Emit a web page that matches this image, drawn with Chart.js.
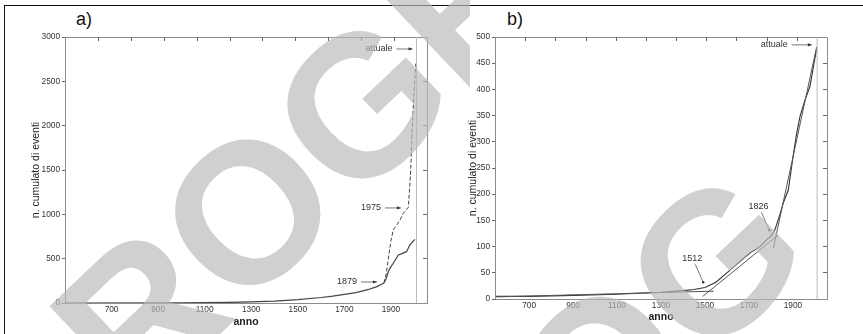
<!DOCTYPE html>
<html>
<head>
<meta charset="utf-8">
<script src="https://cdn.jsdelivr.net/npm/chart.js@4"></script>
<style>
  body { margin: 0; background: #fff; }
  #wrap { position: relative; width: 863px; height: 334px; overflow: hidden; font-family: Arial, "Liberation Sans", sans-serif; }
  #frame { position: absolute; left: 4px; top: 5px; width: 900px; height: 400px; border-top: 1.5px solid #111; border-left: 1.5px solid #111; }
  .lab { position: absolute; top: 9px; font-size: 18px; color: #111; }
  canvas { position: absolute; top: 0; }
  #wm { pointer-events: none; }
</style>
</head>
<body>
<div id="wrap">
  <div id="frame"></div>
  <div class="lab" style="left:76px">a)</div>
  <div class="lab" style="left:507px">b)</div>
  <canvas id="ca" width="440" height="334" style="left:0"></canvas>
  <canvas id="cb" width="423" height="334" style="left:440px"></canvas>
  <canvas id="wm" width="863" height="334" style="left:0"></canvas>
</div>
<script>
// panel a) - cumulated events
const yearsA = [500, 1000, 1200, 1300, 1400, 1500, 1600, 1650, 1700, 1750, 1800, 1840, 1870];
const valuesA = [0, 2, 6, 12, 22, 38, 62, 78, 98, 118, 150, 185, 225];
const yearsDashA = [1870, 1880, 1888, 1900, 1910, 1925, 1939, 1953, 1965, 1975, 1985, 1992, 2000, 2007];
const valuesDashA = [225, 330, 485, 700, 823, 880, 936, 1012, 1050, 1080, 1500, 2000, 2400, 2700];
const yearsSolidA = [1870, 1880, 1890, 1900, 1910, 1932, 1950, 1967, 1981, 2003];
const valuesSolidA = [225, 280, 360, 410, 448, 541, 560, 579, 654, 718];
const xTicksA = [700, 900, 1100, 1300, 1500, 1700, 1900];
const yTicksA = [0, 500, 1000, 1500, 2000, 2500, 3000];
const notesA = [
  { text: "attuale", x: 1993, y: 2865 },
  { text: "1975", x: 1943, y: 1072 },
  { text: "1879", x: 1840, y: 237 }
];

// panel b) - data and fitted segments
const yearsB = [550, 700, 900, 1100, 1200, 1300, 1400, 1450, 1500, 1550, 1614, 1660, 1705, 1750, 1780, 1800, 1818, 1840, 1856, 1879, 1900, 1917, 1932, 1955, 1977, 2008];
const valuesB = [5, 5, 7, 9, 11, 13, 16, 18, 22, 32, 55, 72, 88, 100, 113, 120, 132, 160, 183, 208, 270, 316, 348, 380, 405, 478];
const fit1X = [550, 1540], fit1Y = [4, 15];
const fit2X = [1490, 1833], fit2Y = [5, 122];
const fit3X = [1811, 2008], fit3Y = [97, 481];
const xTicksB = [700, 900, 1100, 1300, 1500, 1700, 1900];
const yTicksB = [0, 50, 100, 150, 200, 250, 300, 350, 400, 450, 500];
const notesB = [
  { text: "attuale", x: 1986, y: 485 },
  { text: "1826", x: 1793, y: 131 },
  { text: "1512", x: 1492, y: 32 }
];
const nowYear = 2010;
// minor marks along the top frame (0..11 units)
const topTicks = [1, 2, 3, 4, 5, 6, 7, 8, 9, 10];

function pts(xs, ys) {
  return xs.map((x, i) => ({ x: x, y: ys[i] }));
}

const tickFont = { family: "Arial, 'Liberation Sans'", size: 8.3 };
const axisGray = "#8c8c8c";

function makeOptions(cfg) {
  return {
    responsive: false,
    animation: false,
    layout: { padding: { top: 36, right: cfg.padRight, left: 0, bottom: cfg.padBottom } },
    plugins: { legend: { display: false }, tooltip: { enabled: false } },
    scales: {
      x: {
        type: "linear", position: "bottom", min: cfg.xmin, max: cfg.xmax,
        afterBuildTicks: s => { s.ticks = cfg.xTicks.map(v => ({ value: v })); },
        afterFit: s => { s.height = cfg.xHeight; },
        border: { color: axisGray },
        grid: { drawOnChartArea: false, drawTicks: false },
        ticks: { font: tickFont, color: "#333", padding: 2, callback: v => String(v) },
        title: { display: true, text: "anno", font: { family: "Arial, 'Liberation Sans'", size: 10.5, weight: "bold" }, color: "#222", padding: { top: 1, bottom: 0 } }
      },
      xt: {
        type: "linear", position: "top", min: 0, max: 11,
        afterBuildTicks: s => { s.ticks = topTicks.map(v => ({ value: v })); },
        ticks: { display: false },
        afterFit: s => { s.height = 1; },
        border: { color: axisGray },
        grid: { drawOnChartArea: false, drawTicks: false }
      },
      y: {
        min: 0, max: cfg.ymax,
        afterBuildTicks: s => { s.ticks = cfg.yTicks.map(v => ({ value: v })); },
        afterFit: s => { s.width = cfg.yWidth; },
        border: { color: axisGray },
        grid: { drawOnChartArea: false, drawTicks: true, tickLength: 3, color: "#666" },
        ticks: { font: tickFont, color: "#333", padding: 2, callback: v => String(v) },
        title: { display: true, text: "n. cumulato di eventi", font: { family: "Arial, 'Liberation Sans'", size: 10.5 }, color: "#222", padding: { top: cfg.titlePad, bottom: 0 } }
      },
      yr: {
        position: "right", min: 0, max: cfg.ymax,
        afterBuildTicks: s => { s.ticks = cfg.yTicks.map(v => ({ value: v })); },
        afterFit: s => { s.width = 0; },
        border: { color: axisGray },
        grid: { drawOnChartArea: false, drawTicks: true, tickLength: -4, color: "#666" },
        ticks: { display: false }
      }
    }
  };
}

// inward tick marks on the top frame
const topTickPlugin = {
  id: "topTicks",
  afterDraw(chart) {
    const ctx = chart.ctx, s = chart.scales.xt, top = chart.chartArea.top;
    ctx.save();
    ctx.strokeStyle = "#666"; ctx.lineWidth = 1;
    s.ticks.forEach(t => {
      const px = Math.round(s.getPixelForValue(t.value)) + 0.5;
      ctx.beginPath(); ctx.moveTo(px, top); ctx.lineTo(px, top + 4); ctx.stroke();
    });
    ctx.restore();
  }
};

// arrows + labels, anchored in data units
function notesPlugin(notes, kind) {
  return {
    id: "notes",
    afterDatasetsDraw(chart) {
      const ctx = chart.ctx, xs = chart.scales.x, ys = chart.scales.y;
      ctx.save();
      ctx.font = "9px Arial, 'Liberation Sans'";
      notes.forEach((n, i) => {
        const px = xs.getPixelForValue(n.x), py = ys.getPixelForValue(n.y);
        ctx.strokeStyle = "#555"; ctx.fillStyle = "#333"; ctx.lineWidth = 0.8;
        if (kind === "a" || i === 0) {
          const len = kind === "a" ? 16 : 20;
          ctx.beginPath(); ctx.moveTo(px - len, py); ctx.lineTo(px, py); ctx.stroke();
          ctx.beginPath(); ctx.moveTo(px, py); ctx.lineTo(px - 4, py - 1.6); ctx.lineTo(px - 4, py + 1.6); ctx.closePath(); ctx.fill();
          ctx.textAlign = "right"; ctx.textBaseline = "middle";
          ctx.fillText(n.text, px - len - 4, py);
        } else {
          ctx.beginPath(); ctx.moveTo(px - 8, py - 18); ctx.lineTo(px, py); ctx.stroke();
          ctx.beginPath(); ctx.arc(px, py, 1.2, 0, Math.PI * 2); ctx.fill();
          ctx.textAlign = "center"; ctx.textBaseline = "bottom";
          ctx.fillText(n.text, px - 11, py - 19);
        }
      });
      ctx.restore();
    }
  };
}

const lineStyle = { showLine: true, pointRadius: 0, fill: false, tension: 0 };

new Chart(document.getElementById("ca"), {
  type: "scatter",
  data: {
    datasets: [
      { ...lineStyle, data: [{ x: nowYear, y: 0 }, { x: nowYear, y: 3000 }], borderColor: "#bbb", borderWidth: 1 },
      { ...lineStyle, data: pts(yearsA, valuesA), borderColor: "#444", borderWidth: 1.2 },
      { ...lineStyle, data: pts(yearsDashA, valuesDashA), borderColor: "#444", borderWidth: 1, borderDash: [4, 2] },
      { ...lineStyle, data: pts(yearsSolidA, valuesSolidA), borderColor: "#444", borderWidth: 1.2 }
    ]
  },
  options: makeOptions({ xmin: 500, xmax: 2055, ymax: 3000, xTicks: xTicksA, yTicks: yTicksA, yWidth: 65, xHeight: 25, padBottom: 6, padRight: 13, titlePad: 30 }),
  plugins: [topTickPlugin, notesPlugin(notesA, "a")]
});

new Chart(document.getElementById("cb"), {
  type: "scatter",
  data: {
    datasets: [
      { ...lineStyle, data: [{ x: nowYear, y: 0 }, { x: nowYear, y: 500 }], borderColor: "#bbb", borderWidth: 1 },
      { ...lineStyle, data: pts(fit1X, fit1Y), borderColor: "#555", borderWidth: 1 },
      { ...lineStyle, data: pts(fit2X, fit2Y), borderColor: "#555", borderWidth: 1 },
      { ...lineStyle, data: pts(fit3X, fit3Y), borderColor: "#555", borderWidth: 1 },
      { ...lineStyle, data: pts(yearsB, valuesB), borderColor: "#333", borderWidth: 1.1 }
    ]
  },
  options: makeOptions({ xmin: 545, xmax: 2055, ymax: 500, xTicks: xTicksB, yTicks: yTicksB, yWidth: 55, xHeight: 24, padBottom: 11, padRight: 36, titlePad: 27 }),
  plugins: [topTickPlugin, notesPlugin(notesB, "b")]
});

// light diagonal watermark lettering lying over the picture
(function () {
  const ctx = document.getElementById("wm").getContext("2d");
  ctx.font = "bold 200px Arial, 'Liberation Sans'";
  ctx.fillStyle = "rgba(186,186,186,0.68)";
  function word(text, anchorIdx, cx, cy, clipRight) {
    const before = ctx.measureText(text.slice(0, anchorIdx)).width;
    const half = ctx.measureText(text[anchorIdx]).width / 2;
    ctx.save();
    ctx.beginPath(); ctx.rect(0, 0, clipRight, 334); ctx.clip();
    ctx.translate(cx, cy);
    ctx.rotate(-0.76);
    ctx.fillText(text, -(before + half), 72);
    ctx.restore();
  }
  word("PROGE", 2, 246, 210, 470);
  word("PROG", 3, 712, 260, 863);
})();
</script>
</body>
</html>
